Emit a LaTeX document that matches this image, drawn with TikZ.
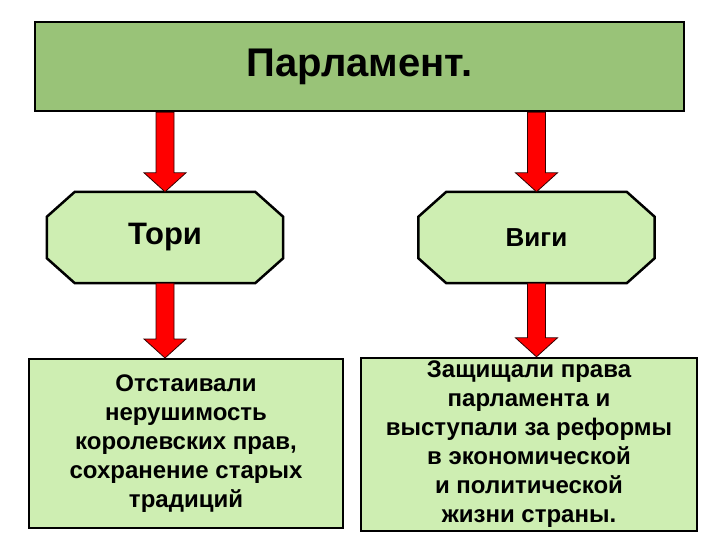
\documentclass[tikz,border=0pt]{standalone}
\usepackage{fontspec}
\setmainfont{Liberation Sans}
\usetikzlibrary{calc,backgrounds}
\definecolor{ParlGreen}{RGB}{153,195,120}
\definecolor{PaleGreen}{RGB}{206,238,178}
\definecolor{ArrowRed}{RGB}{255,0,0}

\tikzset{
  parlbox/.style={draw, line width=2.5pt, fill=ParlGreen, minimum width=649pt, minimum height=89pt, font={\fontsize{40}{46}\selectfont\bfseries}},
  partybox/.style={minimum width=236pt, minimum height=91pt, inner sep=0pt},
  octoline/.style={draw, line width=2.5pt, fill=PaleGreen, line join=miter},
  notebox/.style={draw, line width=2pt, fill=PaleGreen, align=center, font={\fontsize{24}{29}\selectfont\bfseries}},
  redarrow/.style={fill=ArrowRed, draw=black!80!red, line width=0.8pt, line join=miter}
}

% block arrow from #1 (top of shaft) down to #2 (tip)
\newcommand{\blockarrow}[2]{%
  \draw[redarrow] ($(#1)+(-9,0)$) -- ($(#2)+(-9,-19)$) -- ($(#2)+(-21,-19)$) -- (#2)
    -- ($(#2)+(21,-19)$) -- ($(#2)+(9,-19)$) -- ($(#1)+(9,0)$) -- cycle;}

% octagon frame behind a party node
\newcommand{\octoframe}[1]{%
  \draw[octoline] ([xshift=28pt]#1.north west) -- ([xshift=-28pt]#1.north east)
    -- ([yshift=-25pt]#1.north east) -- ([yshift=25pt]#1.south east)
    -- ([xshift=-28pt]#1.south east) -- ([xshift=28pt]#1.south west)
    -- ([yshift=25pt]#1.south west) -- ([yshift=-25pt]#1.north west) -- cycle;}

\begin{document}
\begin{tikzpicture}[x=1pt, y=-1pt]
  \useasboundingbox (0,0) rectangle (720,540);

  % Parliament
  \node[parlbox] (parl) at (359.5,66.5) {Парламент.};

  % Parties
  \node[partybox, font={\fontsize{31}{36}\selectfont\bfseries}] (tori) at (165,237.5) {Тори};
  \node[partybox, font={\fontsize{26}{31}\selectfont\bfseries}] (vigi) at (536.5,237.5) {Виги};
  \begin{scope}[on background layer]
    \octoframe{tori}
    \octoframe{vigi}
  \end{scope}

  % Descriptions
  \node[notebox, minimum width=314pt, minimum height=169pt] (toritext) at (186,443.5)
    {Отстаивали\\нерушимость\\королевских прав,\\сохранение старых\\традиций};
  \node[notebox, minimum width=336pt, minimum height=171pt] (vigitext) at (529,444.5)
    {Защищали права\\парламента и\\выступали за реформы\\в экономической\\и политической\\жизни страны.};

  % Arrows
  \blockarrow{tori.north |- parl.south}{tori.north}
  \blockarrow{vigi.north |- parl.south}{vigi.north}
  \blockarrow{tori.south}{tori.south |- toritext.north}
  \blockarrow{vigi.south}{vigi.south |- vigitext.north}
\end{tikzpicture}
\end{document}
